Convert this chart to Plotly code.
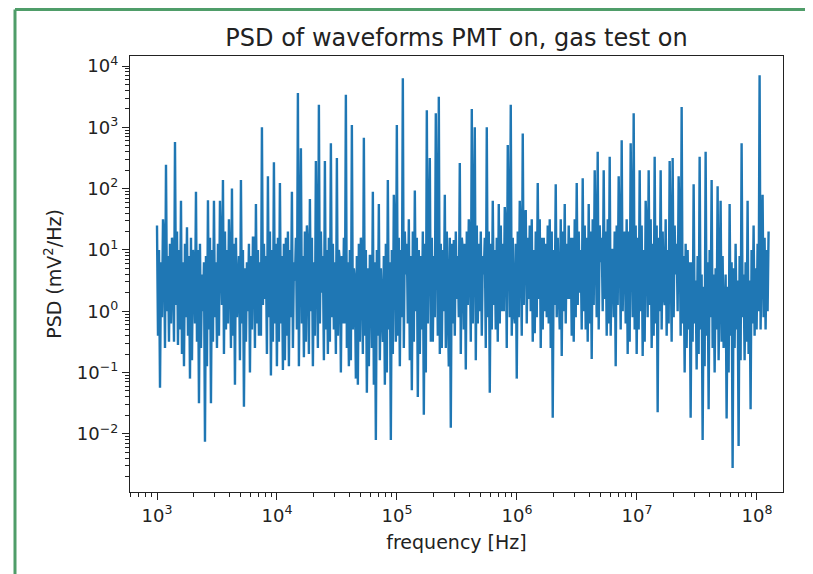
import numpy as np
import plotly.graph_objects as go

# ---------------- data ----------------
# main PSD points (log10 of mV^2/Hz): the spikes / dips
psd_peaks_log10 = [
    1.4, -1.25, 1.5, 2.39, -0.5, 1.2, 2.76, -0.55, 1.8, -0.9,
    1.37, -1.1, 1.0, 1.95, -1.5, 0.6, -2.13, 1.81, -1.5, 1.8,
    -0.6, 1.8, 2.14, -0.3, 1.5, 2.0, -1.2, 0.3, 2.14, -1.56,
    0.8, -1.0, 1.2, 1.75, -0.4, 3.0, 0.2, 2.2, -1.05, 2.43,
    -0.9, 2.09, -0.96, 1.2, -0.9, 1.95, 0.5, 3.56, 2.66, -0.75,
    1.4, 1.83, -0.9, 2.45, 3.37, 0.3, 2.45, -0.7, 2.74, -0.3,
    2.5, 0.8, -0.2, 3.53, -0.9, 3.04, 0.5, -1.2, 1.2, 2.83,
    -1.33, 0.9, 1.95, -2.1, 1.75, 0.2, -1.2, 2.14, -2.1, 1.9,
    3.04, -0.9, 3.8, 0.6, 1.5, -1.29, 1.97, -1.4, 0.9, -1.69,
    3.28, 2.5, -0.5, 3.23, 3.5, -0.6, 1.9, 0.3, -1.9, 1.16,
    0.2, 2.42, 1.0, -0.95, 1.5, 3.3, 3.0, -0.2, 1.3, 0.6,
    3.0, -1.33, 1.8, -0.3, 1.75, 0.0, 1.7, 2.71, 3.37, 0.0,
    -1.1, 1.8, 2.9, 1.65, 0.2, 1.5, -0.36, 2.09, -0.6, 1.2,
    -0.1, 1.5, -1.74, 2.07, 0.4, -0.73, 1.75, 0.2, 1.2, -0.5,
    2.09, 0.3, 2.17, -0.3, 1.75, -0.78, 2.3, 2.6, 0.8, 2.3,
    -0.4, 2.52, 1.0, -0.9, 2.2, 2.79, 1.3, -0.7, 2.74, 3.23,
    -0.7, 2.3, -0.73, 1.8, 2.3, -0.6, 2.52, -1.65, 2.3, 0.3,
    -0.4, 2.45, 2.5, 0.6, 2.2, 3.33, -1.0, 1.0, -1.74, 2.07,
    -0.95, 2.52, -2.1, 2.6, -1.6, 2.14, -1.0, 2.04, 1.8, -0.6,
    -1.75, 1.75, -2.56, 1.1, -2.2, 2.74, -0.8, 1.8, -1.6, 1.4,
    -0.3, 3.85, 1.9, -0.3, 1.3,
]

# the dense noise band between consecutive main points: (low, high) log10 levels, 204 gaps
band_low_log10 = [
    # 1e3 .. 1e4
    -0.4, -0.1, -0.6, 0.0, -0.2, -0.5, 0.1, -0.3, -0.7, -0.1,
    -0.4, -0.8, -0.2, -0.5, -0.6, 0.0, -0.9, -0.3, -0.5, -0.1,
    -0.4, 0.1, -0.7, -0.2, -0.6, -0.4, -0.1, -0.8, -0.2, -0.5,
    0.0, -0.3, -0.6, -0.2, -0.4, 0.1, -0.7, -0.1, -0.5, -0.2,
    # 1e4 .. 1e5
    -0.5, -0.2, -0.8, -0.4, -0.1, -0.6, -0.3, -0.9, -0.2, -0.5,
    -0.7, 0.0, -0.4, -0.6, -0.2, -0.8, -0.3, -0.5, -0.1, -0.7,
    -0.4, -1.0, -0.2, -0.6, -0.8, -0.3, -1.1, -0.5, -0.7, -0.4,
    -0.9, -0.6, -1.2, -0.4, -0.8, -0.5, -1.0, -0.3, -0.7, -0.5,
    # 1e5 .. 1e6
    -0.4, -0.1, -0.6, -0.2, -0.8, -0.5, 0.0, -0.7, -0.3, -1.0,
    -0.2, -0.5, -0.1, -0.4, -0.7, 0.0, -0.6, -0.9, -0.2, -0.4,
    -0.1, -0.7, -0.3, 0.1, -0.5, -0.2, -0.8, 0.0, -0.4, -0.6,
    -0.1, -0.3, 0.1, -0.5, -0.2, 0.0, -0.6, -0.1, -0.4, -0.2,
    # 1e6 .. 1e7
    -0.1, -0.4, 0.1, -0.2, 0.0, -0.5, -0.1, 0.2, -0.3, 0.0,
    -0.2, -0.6, 0.1, -0.1, -0.3, 0.0, -0.2, 0.2, -0.4, -0.1,
    0.1, -0.3, 0.0, -0.5, -0.2, 0.1, -0.1, -0.3, 0.0, 0.2,
    -0.2, -0.4, -0.1, 0.1, -0.3, 0.0, -0.2, -0.5, -0.1, -0.3,
    # 1e7 .. 1.25e8
    -0.3, 0.0, -0.5, -0.1, 0.1, -0.4, -0.2, 0.0, -0.3, 0.1,
    -0.2, -0.5, -0.1, 0.0, -0.4, -0.2, -0.6, -0.3,
    -0.5, -0.2, -0.7, -0.3, -0.9, -0.4, -0.1, -0.6, -0.3, -0.8,
    -0.5, -0.2, -1.0, -0.4, -0.6, -0.3, -0.8, -0.1, -0.5, -0.7,
    -0.2, -0.4, 0.0, -0.3, -0.1, 0.0,
]
band_high_log10 = [
    # 1e3 .. 1e4
    1.0, 0.8, 1.2, 0.9, 1.1, 0.7, 1.3, 1.0, 0.8, 1.1,
    0.9, 1.2, 0.7, 1.0, 1.1, 0.8, 0.9, 1.2, 1.0, 0.8,
    1.1, 0.9, 1.3, 1.0, 0.8, 1.1, 1.2, 0.9, 1.0, 0.7,
    1.1, 0.9, 1.2, 1.0, 0.8, 1.1, 0.9, 1.3, 1.0, 1.1,
    # 1e4 .. 1e5
    1.2, 0.9, 1.1, 1.3, 1.0, 0.8, 1.2, 1.1, 0.9, 1.3,
    1.0, 1.2, 0.8, 1.1, 1.3, 0.9, 1.0, 1.2, 1.1, 0.8,
    1.0, 0.9, 1.2, 0.8, 1.0, 0.7, 0.9, 1.1, 0.8, 1.0,
    0.7, 0.9, 0.8, 1.0, 0.7, 0.9, 1.1, 0.8, 1.0, 1.2,
    # 1e5 .. 1e6
    1.2, 1.0, 1.3, 1.1, 0.9, 1.3, 1.2, 1.0, 1.3, 1.1,
    1.4, 1.2, 0.9, 1.3, 1.1, 1.0, 1.3, 1.2, 1.1, 1.3,
    0.9, 1.2, 1.1, 1.3, 1.0, 1.2, 1.4, 1.1, 0.9, 1.2,
    1.3, 1.1, 1.0, 1.2, 1.4, 1.1, 1.3, 1.0, 1.2, 1.1,
    # 1e6 .. 1e7
    1.3, 1.1, 1.5, 1.2, 1.4, 1.0, 1.3, 1.5, 1.2, 1.1,
    1.4, 1.3, 1.0, 1.2, 1.5, 1.3, 1.1, 1.4, 1.2, 1.5,
    1.3, 1.0, 1.4, 1.2, 1.3, 1.5, 1.1, 1.4, 1.2, 1.3,
    1.5, 1.0, 1.3, 1.4, 1.2, 1.1, 1.5, 1.3, 1.2, 1.4,
    # 1e7 .. 1.25e8
    1.2, 1.4, 1.0, 1.3, 1.5, 1.1, 1.4, 1.2, 1.3, 1.5,
    1.0, 1.2, 1.4, 1.1, 1.3, 0.9, 1.1, 0.8,
    0.8, 0.5, 0.9, 0.6, 0.4, 0.8, 1.0, 0.6, 0.7, 0.5,
    0.9, 0.6, 0.4, 0.8, 0.7, 0.5, 0.9, 0.6, 0.8, 0.5,
    1.0, 0.7, 1.1, 0.9, 1.2, 1.0,
]

f_min_hz = 1.0e3
f_max_hz = 1.25e8

x_tick_exps = [3, 4, 5, 6, 7, 8]
y_tick_exps = [-2, -1, 0, 1, 2, 3, 4]

title_text = "PSD of waveforms PMT on, gas test on"
x_label = "frequency [Hz]"
y_label = "PSD (mV<sup>2</sup>/Hz)"

# ---------------- assemble the trace path ----------------
seq = []
for i in range(len(psd_peaks_log10) - 1):
    a, b = psd_peaks_log10[i], psd_peaks_log10[i + 1]
    lo, hi = band_low_log10[i], band_high_log10[i]
    seq.append(a)
    if a >= b:
        seq.extend([lo, hi])
    else:
        seq.extend([hi, lo])
seq.append(psd_peaks_log10[-1])

frequency = np.logspace(np.log10(f_min_hz), np.log10(f_max_hz), len(seq))
psd = 10.0 ** np.array(seq)


def sup_label(e):
    s = str(e).replace("-", "\u2212")
    return "10<sup>" + s + "</sup>"


def minor_vals(lo, hi):
    out = []
    for d in range(lo, hi + 1):
        for m in range(2, 10):
            out.append(m * 10.0 ** d)
    return out


fig = go.Figure()
fig.add_trace(go.Scatter(
    x=frequency, y=psd, mode="lines",
    line=dict(color="#1f77b4", width=2.4),
    hoverinfo="skip",
))

font_family = "DejaVu Sans"
ink = "#222"
axis_common = dict(
    type="log", showgrid=False, zeroline=False,
    showline=True, mirror=True, linecolor=ink, linewidth=1.3,
    ticks="outside", ticklen=7, tickwidth=1.3, tickcolor=ink,
    tickfont=dict(family=font_family, size=18, color=ink),
)

fig.update_xaxes(
    **axis_common,
    range=[2.775, 8.217],
    tickvals=[10.0 ** e for e in x_tick_exps],
    ticktext=[sup_label(e) for e in x_tick_exps],
    minor=dict(tickvals=minor_vals(2, 8), ticklen=4, tickwidth=1, tickcolor=ink, ticks="outside"),
    title=dict(text=x_label, font=dict(family=font_family, size=19, color=ink), standoff=10),
)
fig.update_yaxes(
    **axis_common,
    range=[-2.95, 4.164],
    tickvals=[10.0 ** e for e in y_tick_exps],
    ticktext=[sup_label(e) for e in y_tick_exps],
    minor=dict(tickvals=minor_vals(-3, 4), ticklen=4, tickwidth=1, tickcolor=ink, ticks="outside"),
    title=dict(text=y_label, font=dict(family=font_family, size=19, color=ink), standoff=10),
)

# page has an 8px body margin, so figure coords = page coords - 8
OFF = 8
W, H = 813 - OFF, 574 - OFF
L, R, T, B = 130 - OFF, 783 - OFF, 56 - OFF, 492 - OFF


def px(xp):
    return (xp - OFF - L) / (R - L)


def py(yp):
    return (B - (yp - OFF)) / (B - T)


border = "#4f9d69"
shapes = [
    dict(type="line", xref="paper", yref="paper", x0=px(15), x1=px(15), y0=py(9.5), y1=py(590), line=dict(color=border, width=3)),
    dict(type="line", xref="paper", yref="paper", x0=px(15), x1=px(812), y0=py(9.5), y1=py(9.5), line=dict(color=border, width=3)),
    dict(type="line", xref="paper", yref="paper", x0=px(810), x1=px(810), y0=py(9.5), y1=py(590), line=dict(color=border, width=3)),
]

fig.update_layout(
    width=W, height=H, autosize=False,
    margin=dict(l=L, r=W - R, t=T, b=H - B),
    plot_bgcolor="white", paper_bgcolor="white",
    showlegend=False,
    title=dict(text=title_text, x=(L + R) / 2 / W, xanchor="center",
               y=1 - (38 - OFF) / H, yanchor="middle", yref="container",
               font=dict(family=font_family, size=24, color=ink)),
    shapes=shapes,
)

fig.write_html("out.html")
